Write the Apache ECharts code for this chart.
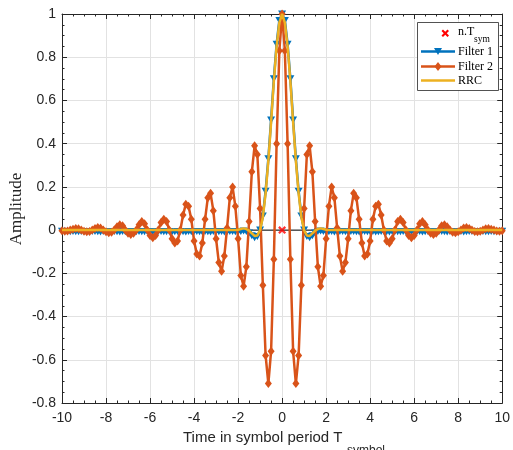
<!DOCTYPE html>
<html><head><meta charset="utf-8">
<script src="https://cdn.jsdelivr.net/npm/echarts@6/dist/echarts.min.js"></script>
<style>html,body{margin:0;padding:0;background:#fff}#c{width:513px;height:450px}</style>
</head><body><div id="c"></div>
<script>
// sample grid: 8 samples per symbol period, from -10 to 10
const sampleStep = 0.125;
const sampleTimes = [];
for (let i = 0; i <= 160; i++) sampleTimes.push(-10 + i * sampleStep);

const xTicks = [-10, -8, -6, -4, -2, 0, 2, 4, 6, 8, 10];
const yTicks = [-0.8, -0.6, -0.4, -0.2, 0, 0.2, 0.4, 0.6, 0.8, 1];

// n.T_sym marker
const symbolInstantsT = [0];
const symbolInstantsV = [0];

// Filter 1 (blue, triangles)
const filter1Values = [
-0.005,-0.006,-0.007,-0.008,-0.007,-0.008,-0.008,-0.006,
-0.007,-0.008,-0.008,-0.007,-0.006,-0.008,-0.009,-0.007,
-0.008,-0.008,-0.007,-0.006,-0.008,-0.009,-0.007,-0.008,
-0.006,-0.007,-0.009,-0.008,-0.007,-0.008,-0.008,-0.006,
-0.007,-0.008,-0.009,-0.007,-0.006,-0.008,-0.008,-0.007,
-0.009,-0.008,-0.006,-0.007,-0.008,-0.009,-0.007,-0.008,
-0.007,-0.006,-0.008,-0.009,-0.007,-0.008,-0.009,-0.007,
-0.006,-0.008,-0.007,-0.009,-0.008,-0.006,-0.007,-0.008,
-0.008,-0.006,-0.004,-0.006,-0.013,-0.026,-0.035,-0.030,
0.000,0.065,0.180,0.330,0.510,0.700,0.860,0.970,
1.000,
0.970,0.860,0.700,0.510,0.330,0.180,0.065,0.000,
-0.030,-0.035,-0.026,-0.013,-0.006,-0.004,-0.006,-0.008,
-0.008,-0.007,-0.009,-0.008,-0.006,-0.007,-0.008,-0.009,
-0.007,-0.006,-0.008,-0.009,-0.007,-0.006,-0.008,-0.008,
-0.007,-0.009,-0.008,-0.006,-0.007,-0.008,-0.009,-0.007,
-0.006,-0.008,-0.008,-0.007,-0.009,-0.007,-0.006,-0.008,
-0.008,-0.007,-0.009,-0.008,-0.006,-0.007,-0.008,-0.008,
-0.007,-0.006,-0.008,-0.009,-0.007,-0.007,-0.008,-0.008,
-0.007,-0.009,-0.008,-0.006,-0.007,-0.008,-0.008,-0.007,
-0.006,-0.008,-0.008,-0.007,-0.008,-0.007,-0.006,-0.005
];

// Filter 2 (orange, diamonds)
const filter2Values = [
-0.003,-0.005,-0.004,0.000,0.004,0.007,0.006,0.000,
-0.005,-0.008,-0.006,0.000,0.008,0.012,0.010,0.000,
-0.008,-0.012,-0.010,0.000,0.015,0.025,0.020,0.000,
-0.015,-0.020,-0.015,0.000,0.025,0.040,0.030,0.000,
-0.025,-0.035,-0.025,0.000,0.035,0.050,0.040,0.000,
-0.040,-0.060,-0.050,0.000,0.070,0.120,0.110,0.050,
-0.050,-0.110,-0.120,-0.060,0.050,0.150,0.170,0.090,
-0.040,-0.150,-0.190,-0.120,0.010,0.150,0.200,0.110,
-0.040,-0.210,-0.260,-0.170,0.040,0.270,0.390,0.350,
0.100,-0.255,-0.580,-0.710,-0.560,-0.135,0.400,0.830,
1.000,
0.830,0.400,-0.135,-0.560,-0.710,-0.580,-0.255,0.100,
0.350,0.390,0.270,0.040,-0.170,-0.260,-0.210,-0.040,
0.110,0.200,0.150,0.010,-0.120,-0.190,-0.150,-0.040,
0.090,0.170,0.150,0.050,-0.060,-0.120,-0.110,-0.050,
0.050,0.110,0.120,0.070,0.000,-0.050,-0.060,-0.040,
0.000,0.040,0.050,0.035,0.000,-0.025,-0.035,-0.025,
0.000,0.030,0.040,0.025,0.000,-0.015,-0.020,-0.015,
0.000,0.020,0.025,0.015,0.000,-0.010,-0.012,-0.008,
0.000,0.010,0.012,0.008,0.000,-0.006,-0.008,-0.005,
0.000,0.006,0.007,0.004,0.000,-0.004,-0.005,-0.003
];

// RRC (yellow line)
const rrcValues = [
0,0,0,0,0,0,0,0,
0,0,0,0,0,0,0,0,
0,0,0,0,0,0,0,0,
0,0,0,0,0,0,0,0,
0,0,0,0,0,0,0,0,
0,0,0,0,0,0,0,0,
0,0,0,0,0,0,0,0,
0,0,0,0,0,0,0,0,
0.002,0.005,0.008,0.005,-0.002,-0.015,-0.027,-0.025,
0.000,0.060,0.170,0.320,0.500,0.690,0.850,0.960,
1.000,
0.960,0.850,0.690,0.500,0.320,0.170,0.060,0.000,
-0.025,-0.027,-0.015,-0.002,0.005,0.008,0.005,0.002,
0,0,0,0,0,0,0,0,
0,0,0,0,0,0,0,0,
0,0,0,0,0,0,0,0,
0,0,0,0,0,0,0,0,
0,0,0,0,0,0,0,0,
0,0,0,0,0,0,0,0,
0,0,0,0,0,0,0,0,
0,0,0,0,0,0,0,0
];

const zeroLineT = [-10, 10];
const zeroLineV = [0, 0];

const C_BLUE = '#0072BD', C_ORANGE = '#D95319', C_YELLOW = '#EDB120', C_AX = '#262626';
const serif = '"Liberation Serif","Times New Roman",serif';
const sans = '"Liberation Sans",Arial,Helvetica,sans-serif';

const pair = (ts, vs) => ts.map((t, i) => [t, vs[i]]);
const crossUnit = [[0,2],[2,0],[5,3],[8,0],[10,2],[7,5],[10,8],[8,10],[5,7],[2,10],[0,8],[3,5]];
const crossPath = 'path://M' + crossUnit.map(p => p.join(',')).join('L') + 'Z';
const crossPts = crossUnit.map(p => [441.5 + p[0] * 0.75, 29.5 + p[1] * 0.75]);

function xAxisCfg(pos, labels) {
  return {
    type: 'value', position: pos, min: -10, max: 10, interval: 2,
    axisLine: { show: true, onZero: false, lineStyle: { color: C_AX, width: 1 } },
    axisTick: { show: true, inside: true, length: 5, lineStyle: { color: C_AX } },
    minorTick: { show: true, splitNumber: 4, length: 2.5, lineStyle: { color: C_AX } },
    axisLabel: labels ? { show: true, margin: 8, color: C_AX, fontSize: 14, fontFamily: sans,
      formatter: v => String(Math.round(v)) } : { show: false },
    splitLine: { show: !!labels, lineStyle: { color: '#e2e2e2', width: 1 } },
    minorSplitLine: { show: false }
  };
}
function yAxisCfg(pos, labels) {
  return {
    type: 'value', position: pos, min: -0.8, max: 1, interval: 0.2,
    axisLine: { show: true, onZero: false, lineStyle: { color: C_AX, width: 1 } },
    axisTick: { show: true, inside: true, length: 5, lineStyle: { color: C_AX } },
    minorTick: { show: true, splitNumber: 4, length: 2.5, lineStyle: { color: C_AX } },
    axisLabel: labels ? { show: true, margin: 6, color: C_AX, fontSize: 14, fontFamily: sans,
      formatter: v => { const r = Math.round(v * 10) / 10; return String(r); } } : { show: false },
    splitLine: { show: !!labels, lineStyle: { color: '#e2e2e2', width: 1 } }
  };
}

const chart = echarts.init(document.getElementById('c'), null, { renderer: 'canvas' });
chart.setOption({
  animation: false,
  backgroundColor: '#fff',
  grid: { left: 62, right: 8, top: 14, bottom: 47 },
  xAxis: [xAxisCfg('bottom', true), xAxisCfg('top', false)],
  yAxis: [yAxisCfg('left', true), yAxisCfg('right', false)],
  series: [
    { type: 'line', name: 'zero', data: pair(zeroLineT, zeroLineV), showSymbol: false,
      lineStyle: { color: '#000', width: 1 }, silent: true, z: 1 },
    { type: 'scatter', name: 'n.T_sym', data: pair(symbolInstantsT, symbolInstantsV),
      symbol: crossPath, symbolSize: 8, itemStyle: { color: '#FF0000' }, z: 2 },
    { type: 'line', name: 'Filter 1', data: pair(sampleTimes, filter1Values),
      showAllSymbol: true, symbol: 'triangle', symbolRotate: 180, symbolSize: [8, 7],
      itemStyle: { color: C_BLUE }, lineStyle: { color: C_BLUE, width: 2.5 }, z: 3 },
    { type: 'line', name: 'Filter 2', data: pair(sampleTimes, filter2Values),
      showAllSymbol: true, symbol: 'diamond', symbolSize: [7, 9],
      itemStyle: { color: C_ORANGE }, lineStyle: { color: C_ORANGE, width: 2.5 }, z: 4 },
    { type: 'line', name: 'RRC', data: pair(sampleTimes, rrcValues), showSymbol: false,
      lineStyle: { color: C_YELLOW, width: 2.5 }, z: 5 }
  ],
  graphic: [
    { type: 'text', x: 17, y: 209, rotation: Math.PI / 2, z: 10,
      style: { text: 'Amplitude', fill: C_AX, font: '17px ' + serif, align: 'center', verticalAlign: 'middle' } },
    { type: 'text', x: 183, y: 438, z: 10,
      style: { text: 'Time in symbol period T', fill: C_AX, font: '15px ' + sans, align: 'left', verticalAlign: 'middle' } },
    { type: 'text', x: 347, y: 445, z: 10,
      style: { text: 'symbol', fill: C_AX, font: '12px ' + sans, align: 'left', verticalAlign: 'top' } },
    // legend
    { type: 'rect', z: 20, shape: { x: 417.5, y: 22.5, width: 81, height: 68 },
      style: { fill: '#fff', stroke: C_AX, lineWidth: 0.8 } },
    { type: 'polygon', z: 21, shape: { points: crossPts }, style: { fill: '#FF0000' } },
    { type: 'text', z: 21, x: 458, y: 31.5, style: { text: 'n.T', fill: '#000', font: '12px ' + serif, verticalAlign: 'middle' } },
    { type: 'text', z: 21, x: 474, y: 39, style: { text: 'sym', fill: '#000', font: '9.5px ' + serif, verticalAlign: 'middle' } },
    { type: 'line', z: 21, shape: { x1: 421, y1: 51.5, x2: 455, y2: 51.5 }, style: { stroke: C_BLUE, lineWidth: 2.5 } },
    { type: 'polygon', z: 22, shape: { points: [[434, 48], [442, 48], [438, 55]] }, style: { fill: C_BLUE } },
    { type: 'text', z: 21, x: 458, y: 51.5, style: { text: 'Filter 1', fill: '#000', font: '12px ' + serif, verticalAlign: 'middle' } },
    { type: 'line', z: 21, shape: { x1: 421, y1: 66.5, x2: 455, y2: 66.5 }, style: { stroke: C_ORANGE, lineWidth: 2.5 } },
    { type: 'polygon', z: 22, shape: { points: [[438, 62], [441.5, 66.5], [438, 71], [434.5, 66.5]] }, style: { fill: C_ORANGE } },
    { type: 'text', z: 21, x: 458, y: 66.5, style: { text: 'Filter 2', fill: '#000', font: '12px ' + serif, verticalAlign: 'middle' } },
    { type: 'line', z: 21, shape: { x1: 421, y1: 80.5, x2: 455, y2: 80.5 }, style: { stroke: C_YELLOW, lineWidth: 2.5 } },
    { type: 'text', z: 21, x: 458, y: 80.5, style: { text: 'RRC', fill: '#000', font: '12px ' + serif, verticalAlign: 'middle' } }
  ]
});
</script>
</body></html>
